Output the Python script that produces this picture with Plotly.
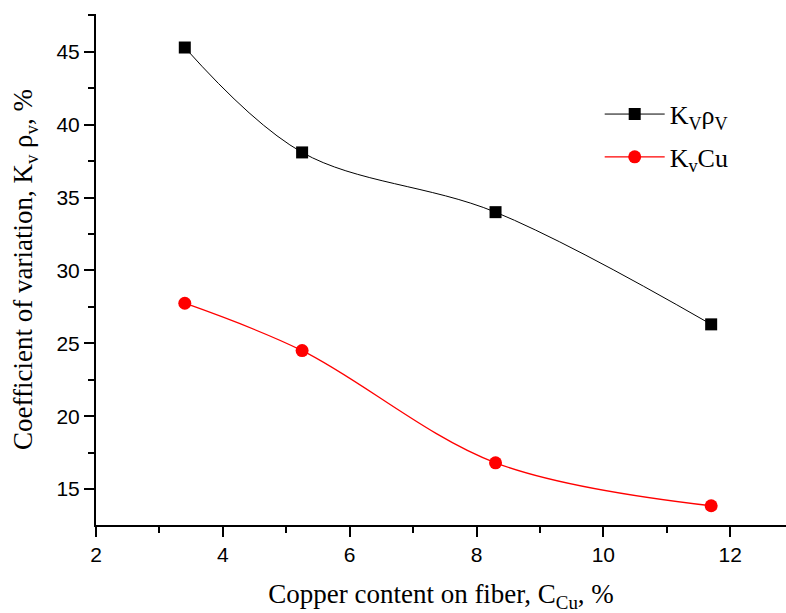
import plotly.graph_objects as go

x_cu = [3.4, 5.25, 8.3, 11.7]
kv_rho = [45.3, 38.1, 34.0, 26.3]
kv_cu = [27.75, 24.5, 16.8, 13.85]

x_ticks = [2, 4, 6, 8, 10, 12]
y_ticks = [15, 20, 25, 30, 35, 40, 45]

fig = go.Figure()
fig.add_trace(go.Scatter(
    x=x_cu, y=kv_rho, mode="lines+markers", name="K<sub>V</sub>ρ<sub>V</sub>",
    legendgroup="a",
    line=dict(color="black", width=1, shape="spline", smoothing=1),
    marker=dict(symbol="square", size=12, color="black"),
))
fig.add_trace(go.Scatter(
    x=x_cu, y=kv_cu, mode="lines+markers", name="K<sub>v</sub>Cu",
    legendgroup="b",
    line=dict(color="red", width=1.3, shape="spline", smoothing=1),
    marker=dict(symbol="circle", size=13, color="red"),
))

axis_common = dict(
    showline=True, linecolor="black", linewidth=2,
    ticks="outside", ticklen=10, tickwidth=2, tickcolor="black",
    showgrid=False, zeroline=False, mirror=False,
    tickfont=dict(family="Liberation Sans, Arial", size=21, color="black"),
)

fig.update_xaxes(
    range=[2, 12.88], tickvals=x_ticks,
    minor=dict(dtick=1, tick0=0, ticks="outside", ticklen=6, tickwidth=2, tickcolor="black"),
    title=dict(text="Copper content on fiber, C<sub>Cu</sub>, %",
               font=dict(family="Liberation Serif, Times New Roman", size=27, color="black"),
               standoff=24),
    **axis_common,
)
fig.update_yaxes(
    range=[12.53, 47.6], tickvals=y_ticks,
    minor=dict(dtick=2.5, tick0=0, ticks="outside", ticklen=6, tickwidth=2, tickcolor="black"),
    title=dict(text="Coefficient of variation, K<sub>v</sub> ρ<sub>v</sub>, %",
               font=dict(family="Liberation Serif, Times New Roman", size=27, color="black"),
               standoff=16),
    **axis_common,
)

fig.update_layout(
    width=786, height=613,
    margin=dict(l=96, r=0, t=14, b=88),
    plot_bgcolor="white", paper_bgcolor="white",
    showlegend=True,
    legend=dict(
        x=0.73, y=0.85, xanchor="left", yanchor="top",
        font=dict(family="Liberation Serif, Times New Roman", size=26, color="black"),
        bgcolor="rgba(0,0,0,0)", itemwidth=60, tracegroupgap=6,
    ),
)

fig.write_html("out.html")
